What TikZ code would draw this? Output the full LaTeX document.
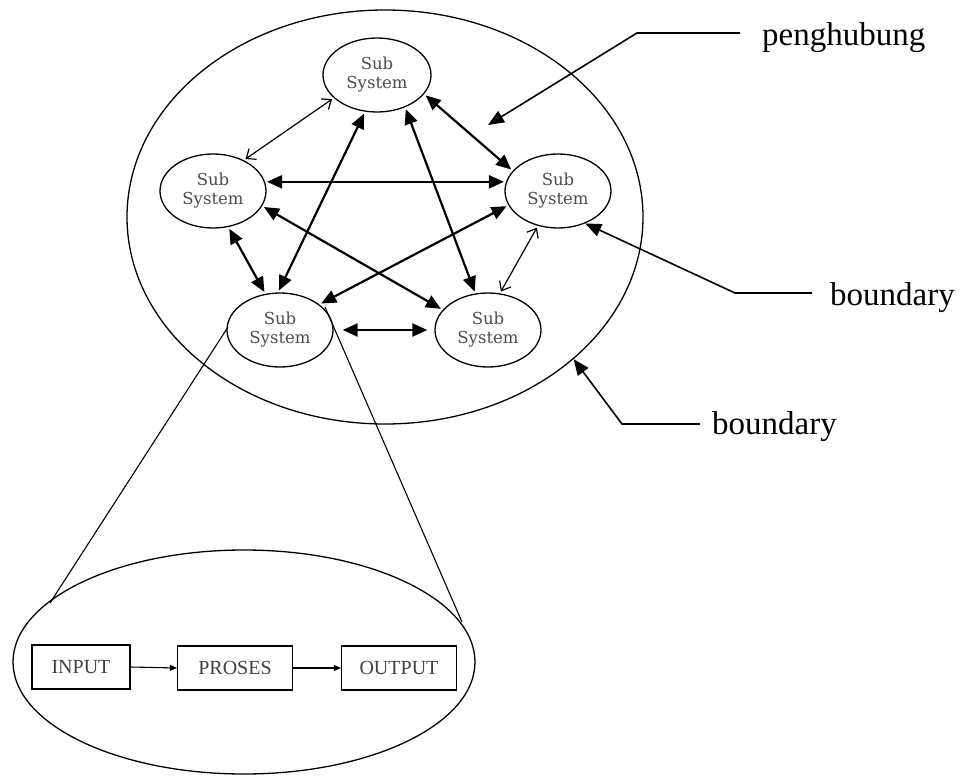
\documentclass[tikz,border=0pt]{standalone}
\usepackage{fontspec}
\setmainfont{Liberation Serif}
\newfontfamily\slab{DejaVu Serif}
\usetikzlibrary{shapes.geometric,arrows.meta}
\begin{document}
\begin{tikzpicture}[x=1pt,y=-1pt,
  subsys/.style={draw,ellipse,line width=1.3pt,minimum width=106pt,minimum height=74pt,inner sep=0pt,
    align=center,font=\slab\fontsize{16.5}{19}\selectfont,text=black!70},
  bigell/.style={draw,ellipse,line width=1.3pt,inner sep=0pt},
  thickarr/.style={line width=2.2pt,{Triangle[length=15pt,width=13pt]}-{Triangle[length=15pt,width=13pt]},shorten <=2pt,shorten >=2pt},
  thinarr/.style={line width=1.2pt,{Straight Barb[length=8pt,width=13pt]}-{Straight Barb[length=8pt,width=13pt]},shorten <=2pt,shorten >=2pt},
  lblarr/.style={line width=1.6pt,-{Triangle[length=16pt,width=13pt]}},
  lbl/.style={font=\fontsize{33}{38}\selectfont,anchor=west,inner sep=0pt},
  procbox/.style={draw,line width=1.1pt,minimum height=44pt,inner sep=0pt,font=\fontsize{20}{22}\selectfont,text=black!75},
  smallarr/.style={line width=1.1pt,-{Triangle[length=7pt,width=6pt]}},
  zoomline/.style={line width=1.1pt}]
\useasboundingbox (0,0) rectangle (962,776);
% outer boundary
\node[bigell,minimum width=516pt,minimum height=414pt] (outer) at (385,217) {};
% sub systems
\node[subsys,minimum width=108pt] (top) at (377,75) {Sub\\System};
\node[subsys] (left) at (213,191) {Sub\\System};
\node[subsys] (right) at (558,191) {Sub\\System};
\node[subsys] (bl) at (280,330) {Sub\\System};
\node[subsys] (br) at (488,330) {Sub\\System};
% connectors
\draw[thinarr] (top.208) -- (left.45);
\draw[thickarr] (top.252) -- (bl.93);
\draw[thickarr] (top.311) -- (br.109);
\draw[thickarr] (top.338) -- (right.156);
\draw[thickarr] (left.10) -- (right.170);
\draw[thickarr] (left.343) -- (br.156);
\draw[thickarr] (left.293) -- (bl.112);
\draw[thickarr] (right.196) -- (bl.33);
\draw[thinarr] (right.240) -- (br.72);
\draw[thickarr,shorten <=9pt,shorten >=7pt] (bl.0) -- (br.180);
% labels
\node[lbl] (pen) at (762,38) {penghubung};
\node[lbl] (bnd1) at (830,298) {boundary};
\node[lbl] (bnd2) at (712,427) {boundary};
\coordinate (pa) at (740,33);
\coordinate (pk) at (637,33);
\coordinate (ptip) at (488,125);
\draw[lblarr] (pa) -- (pk) -- (ptip);
\coordinate (b1a) at (812,293);
\coordinate (b1k) at (735,293);
\draw[lblarr] (b1a) -- (b1k) -- (right.310);
\coordinate (b2a) at (700,424);
\coordinate (b2k) at (622,424);
\draw[lblarr] (b2a) -- (b2k) -- (outer.323);
% zoomed detail
\node[bigell,minimum width=462pt,minimum height=224pt] (lower) at (244,662) {};
\coordinate (zl1) at (228,327);
\coordinate (zl2) at (50,603);
\coordinate (zr1) at (325,307);
\coordinate (zr2) at (462,622);
\draw[zoomline] (zl1) -- (zl2);
\draw[zoomline] (zr1) -- (zr2);
\node[procbox,minimum width=98pt] (in) at (81,667) {INPUT};
\node[procbox,minimum width=115pt] (proc) at (235,668) {PROSES};
\node[procbox,minimum width=115pt] (out) at (399,668) {OUTPUT};
\draw[smallarr] (in.east) -- (proc.west);
\draw[smallarr] (proc.east) -- (out.west);
\end{tikzpicture}
\end{document}
